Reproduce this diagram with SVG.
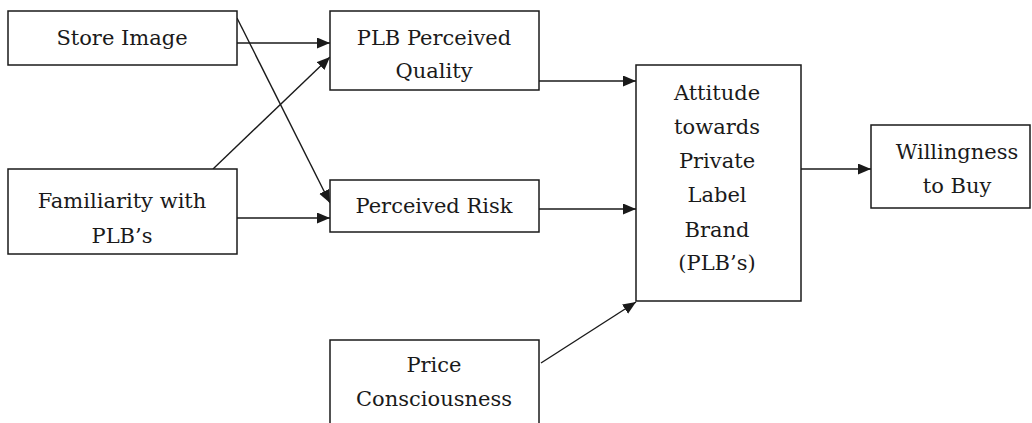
<svg xmlns="http://www.w3.org/2000/svg" width="1032" height="423" viewBox="0 0 1032 423">
<style>
.box{fill:#fff;stroke:#1a1a1a;stroke-width:1.5}
.c{stroke:#1a1a1a;stroke-width:1.4;fill:none;marker-end:url(#ah)}
</style>
<defs>
<marker id="ah" markerUnits="userSpaceOnUse" markerWidth="15" markerHeight="13" refX="13" refY="5.5" orient="auto">
<path d="M0,0 L13,5.5 L0,11 Z" fill="#1a1a1a"/>
</marker>
</defs>
<rect width="1032" height="423" fill="#fff"/>
<g id="connectors">
<line class="c" x1="237" y1="43" x2="330" y2="43"/>
<line class="c" x1="237" y1="18" x2="330" y2="203"/>
<line class="c" x1="213" y1="169" x2="330" y2="57"/>
<line class="c" x1="237" y1="218" x2="330" y2="218"/>
<line class="c" x1="539" y1="81" x2="636" y2="81"/>
<line class="c" x1="539" y1="209" x2="636" y2="209"/>
<line class="c" x1="541" y1="363" x2="636" y2="302"/>
<line class="c" x1="801" y1="169" x2="871" y2="169"/>
</g>
<g font-family="DejaVu Serif, serif" font-size="21" fill="#1a1a1a" text-anchor="middle">
<g id="store-image">
<rect class="box" x="8" y="11" width="229" height="54"/>
<text x="122" y="45">Store Image</text>
</g>
<g id="familiarity">
<rect class="box" x="8" y="169" width="229" height="85"/>
<text x="122" y="208">Familiarity with</text>
<text x="122" y="243">PLB’s</text>
</g>
<g id="perceived-quality">
<rect class="box" x="330" y="11" width="209" height="79"/>
<text x="434" y="45">PLB Perceived</text>
<text x="434" y="78">Quality</text>
</g>
<g id="perceived-risk">
<rect class="box" x="330" y="180" width="209" height="52"/>
<text x="434" y="213">Perceived Risk</text>
</g>
<g id="price-consciousness">
<rect class="box" x="330" y="340" width="209" height="100"/>
<text x="434" y="372">Price</text>
<text x="434" y="406">Consciousness</text>
</g>
<g id="attitude">
<rect class="box" x="636" y="65" width="165" height="236"/>
<text x="717" y="100">Attitude</text>
<text x="717" y="134">towards</text>
<text x="717" y="168">Private</text>
<text x="717" y="202">Label</text>
<text x="717" y="237">Brand</text>
<text x="717" y="270">(PLB’s)</text>
</g>
<g id="willingness">
<rect class="box" x="871" y="125" width="159" height="83"/>
<text x="957" y="159">Willingness</text>
<text x="957" y="193">to Buy</text>
</g>
</g>
</svg>
